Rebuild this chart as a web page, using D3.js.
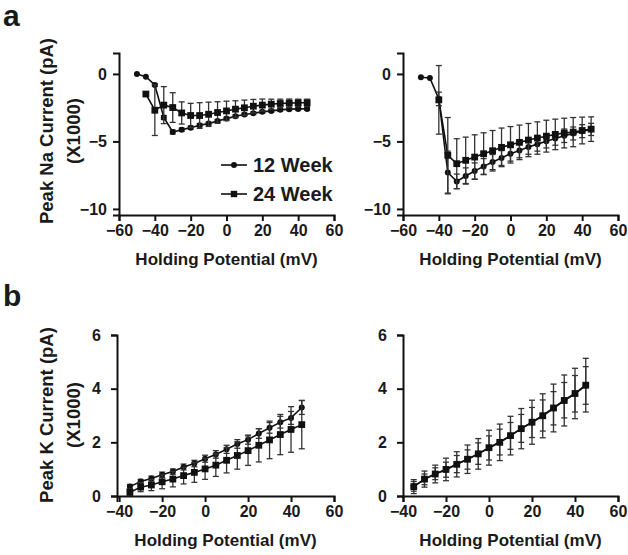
<!DOCTYPE html>
<html><head><meta charset="utf-8">
<script src="https://cdn.jsdelivr.net/npm/d3@7"></script>
<style>body{margin:0;background:#fff}svg{display:block}text{font-family:"Liberation Sans",Arial,sans-serif;font-weight:bold;fill:#1a1a1a}</style>
</head><body>
<svg id="c" width="628" height="555"></svg>
<script>
// ---- data ----
const naX12L = [-50,-45,-40,-35,-30,-25,-20,-15,-10,-5,0,5,10,15,20,25,30,35,40,45];
const naY12L = [0,-0.2,-0.82,-3.23,-4.3,-4.13,-3.98,-3.8,-3.68,-3.48,-3.31,-3.13,-3.0,-2.91,-2.81,-2.74,-2.66,-2.61,-2.59,-2.59];
const naE12L = [0,0,0.1,0.15,0.15,0.12,0.12,0.12,0.1,0.1,0.1,0.1,0.1,0.1,0.1,0.1,0.1,0.1,0.1,0.1];
const naX24L = [-45,-40,-35,-30,-25,-20,-15,-10,-5,0,5,10,15,20,25,30,35,40,45];
const naY24L = [-1.49,-2.69,-2.31,-2.49,-2.89,-3.08,-3.08,-2.99,-2.86,-2.74,-2.61,-2.51,-2.39,-2.31,-2.24,-2.19,-2.16,-2.14,-2.14];
const naE24L = [0,1.87,1.37,1.1,0.82,0.9,0.95,0.9,0.8,0.72,0.62,0.57,0.5,0.45,0.37,0.32,0.3,0.27,0.27];

const naX12R = [-50,-45,-40,-35,-30,-25,-20,-15,-10,-5,0,5,10,15,20,25,30,35,40,45];
const naY12R = [-0.25,-0.3,-1.85,-7.3,-7.96,-7.56,-7.19,-6.85,-6.53,-6.23,-5.91,-5.67,-5.42,-5.2,-4.98,-4.78,-4.58,-4.41,-4.24,-4.11];
const naE12R = [0,0,0.5,1.58,0.54,0.6,0.6,0.58,0.56,0.55,0.55,0.54,0.53,0.52,0.5,0.5,0.5,0.48,0.48,0.45];
const naX24R = [-40,-35,-30,-25,-20,-15,-10,-5,0,5,10,15,20,25,30,35,40,45];
const naY24R = [-1.92,-6.03,-6.65,-6.4,-6.16,-5.91,-5.69,-5.44,-5.25,-5.07,-4.9,-4.75,-4.61,-4.48,-4.38,-4.31,-4.19,-4.09];
const naE24R = [2.54,2.8,1.85,1.72,1.65,1.55,1.5,1.43,1.35,1.28,1.23,1.2,1.18,1.13,1.1,1.08,0.99,0.91];

const kX = [-35,-30,-25,-20,-15,-10,-5,0,5,10,15,20,25,30,35,40,45];
const kY12L = [0.35,0.54,0.65,0.79,0.91,1.08,1.21,1.39,1.55,1.74,1.94,2.1,2.33,2.54,2.75,2.91,3.3];
const kE12L = [0.08,0.08,0.09,0.1,0.1,0.11,0.12,0.13,0.14,0.15,0.16,0.17,0.18,0.2,0.22,0.24,0.26];
const kY24L = [0.14,0.33,0.41,0.53,0.63,0.76,0.88,1.01,1.15,1.33,1.51,1.69,1.89,2.09,2.29,2.48,2.66];
const kE24L = [0.12,0.17,0.21,0.26,0.29,0.31,0.37,0.39,0.42,0.47,0.51,0.55,0.62,0.7,0.75,0.85,0.9];
const kY12R = [0.36,0.62,0.83,0.98,1.19,1.36,1.58,1.79,2.01,2.24,2.52,2.74,3.0,3.27,3.57,3.81,4.12];
const kE12R = [0.18,0.2,0.22,0.28,0.32,0.36,0.4,0.45,0.48,0.5,0.52,0.56,0.58,0.62,0.66,0.68,0.7];
const kY24R = [0.35,0.63,0.82,0.99,1.18,1.37,1.57,1.8,2.0,2.25,2.51,2.75,2.99,3.28,3.56,3.82,4.13];
const kE24R = [0.26,0.3,0.33,0.42,0.47,0.53,0.57,0.65,0.68,0.72,0.75,0.82,0.82,0.89,0.95,0.94,1.0];

const naXTicks = [-60,-40,-20,0,20,40,60];
const naYTicks = [0,-5,-10];
const kXTicks = [-40,-20,0,20,40,60];
const kYTicks = [0,2,4,6];
const seriesNames = ["12 Week","24 Week"];

// ---- drawing ----
const svg = d3.select("#c");

function panel(o){
  const x = d3.scaleLinear().domain(o.xd).range(o.xr);
  const y = d3.scaleLinear().domain(o.yd).range(o.yr);
  const g = svg.append("g");
  const xa = g.append("g").attr("transform",`translate(0,${o.yr[0]})`)
    .call(d3.axisBottom(x).tickValues(o.xt).tickSize(6).tickPadding(4).tickFormat(d3.format("d")));
  const ya = g.append("g").attr("transform",`translate(${o.xr[0]},0)`)
    .call(d3.axisLeft(y).tickValues(o.yt).tickSize(6).tickPadding(o.ypad).tickFormat(d3.format("d")));
  [xa,ya].forEach(a=>{
    a.select(".domain").attr("stroke","#111").attr("stroke-width",2);
    a.selectAll(".tick line").attr("stroke","#111").attr("stroke-width",2);
    a.selectAll(".tick text").style("font-size","16px").attr("fill","#1a1a1a").style("font-family","Liberation Sans, Arial, sans-serif").style("font-weight","bold");
  });
  g.append("text").attr("x",(o.xr[0]+o.xr[1])/2).attr("y",o.yr[0]+50).attr("text-anchor","middle")
    .style("font-size","17px").text("Holding Potential (mV)");
  o.series.forEach((s,si)=>{
    const pts = s.x.map((v,i)=>({x:v,y:s.y[i],e:s.e[i]}));
    g.append("path").datum(pts).attr("fill","none").attr("stroke","#111").attr("stroke-width",1.6)
      .attr("d",d3.line().x(d=>x(d.x)).y(d=>y(d.y)));
    const eb = g.append("g").attr("stroke","#333").attr("stroke-width",1.3);
    pts.filter(d=>d.e>0).forEach(d=>{
      const cx=x(d.x), y1=y(d.y+d.e), y2=y(d.y-d.e);
      eb.append("line").attr("x1",cx).attr("x2",cx).attr("y1",y1).attr("y2",y2);
      eb.append("line").attr("x1",cx-3).attr("x2",cx+3).attr("y1",y1).attr("y2",y1);
      eb.append("line").attr("x1",cx-3).attr("x2",cx+3).attr("y1",y2).attr("y2",y2);
    });
    if(si===0){
      g.selectAll(null).data(pts).enter().append("circle").attr("cx",d=>x(d.x)).attr("cy",d=>y(d.y)).attr("r",3).attr("fill","#111");
    } else {
      g.selectAll(null).data(pts).enter().append("rect").attr("x",d=>x(d.x)-3.4).attr("y",d=>y(d.y)-3.4).attr("width",6.8).attr("height",6.8).attr("fill","#111");
    }
  });
  return {x,y,g};
}

panel({xd:[-60,60],xr:[119,334],yd:[-10.45,1.55],yr:[215,53],xt:naXTicks,yt:naYTicks,ypad:6,
  series:[{x:naX12L,y:naY12L,e:naE12L},{x:naX24L,y:naY24L,e:naE24L}]});
panel({xd:[-60,60],xr:[403,618],yd:[-10.45,1.55],yr:[215,53],xt:naXTicks,yt:naYTicks,ypad:6,
  series:[{x:naX12R,y:naY12R,e:naE12R},{x:naX24R,y:naY24R,e:naE24R}]});
panel({xd:[-41,60],xr:[117,334],yd:[0,6],yr:[496,335],xt:kXTicks,yt:kYTicks,ypad:10,
  series:[{x:kX,y:kY12L,e:kE12L},{x:kX,y:kY24L,e:kE24L}]});
panel({xd:[-40,60],xr:[403,618],yd:[0,6],yr:[496,335],xt:kXTicks,yt:kYTicks,ypad:10,
  series:[{x:kX,y:kY12R,e:kE12R},{x:kX,y:kY24R,e:kE24R}]});

function ytitle(lines,cy){
  const t = svg.append("text").attr("transform",`translate(0,${cy}) rotate(-90)`).attr("text-anchor","middle").style("font-size","18.5px");
  t.append("tspan").attr("x",0).attr("y",53).text(lines[0]);
  t.append("tspan").attr("x",0).attr("y",80).text(lines[1]);
}
ytitle(["Peak Na Current (pA)","(X1000)"],131);
ytitle(["Peak K Current (pA)","(X1000)"],415);

svg.append("text").attr("x",3).attr("y",26).style("font-size","30px").text("a");
svg.append("text").attr("x",3).attr("y",306).style("font-size","30px").text("b");

const lg = svg.append("g");
seriesNames.forEach((n,i)=>{
  const yy = 165 + i*29;
  lg.append("line").attr("x1",221).attr("x2",247).attr("y1",yy).attr("y2",yy).attr("stroke","#111").attr("stroke-width",1.6);
  if(i===0) lg.append("circle").attr("cx",234).attr("cy",yy).attr("r",3).attr("fill","#111");
  else lg.append("rect").attr("x",230.8).attr("y",yy-3.2).attr("width",6.4).attr("height",6.4).attr("fill","#111");
  lg.append("text").attr("x",253).attr("y",yy+7).style("font-size","20px").text(n);
});
</script>
</body></html>
